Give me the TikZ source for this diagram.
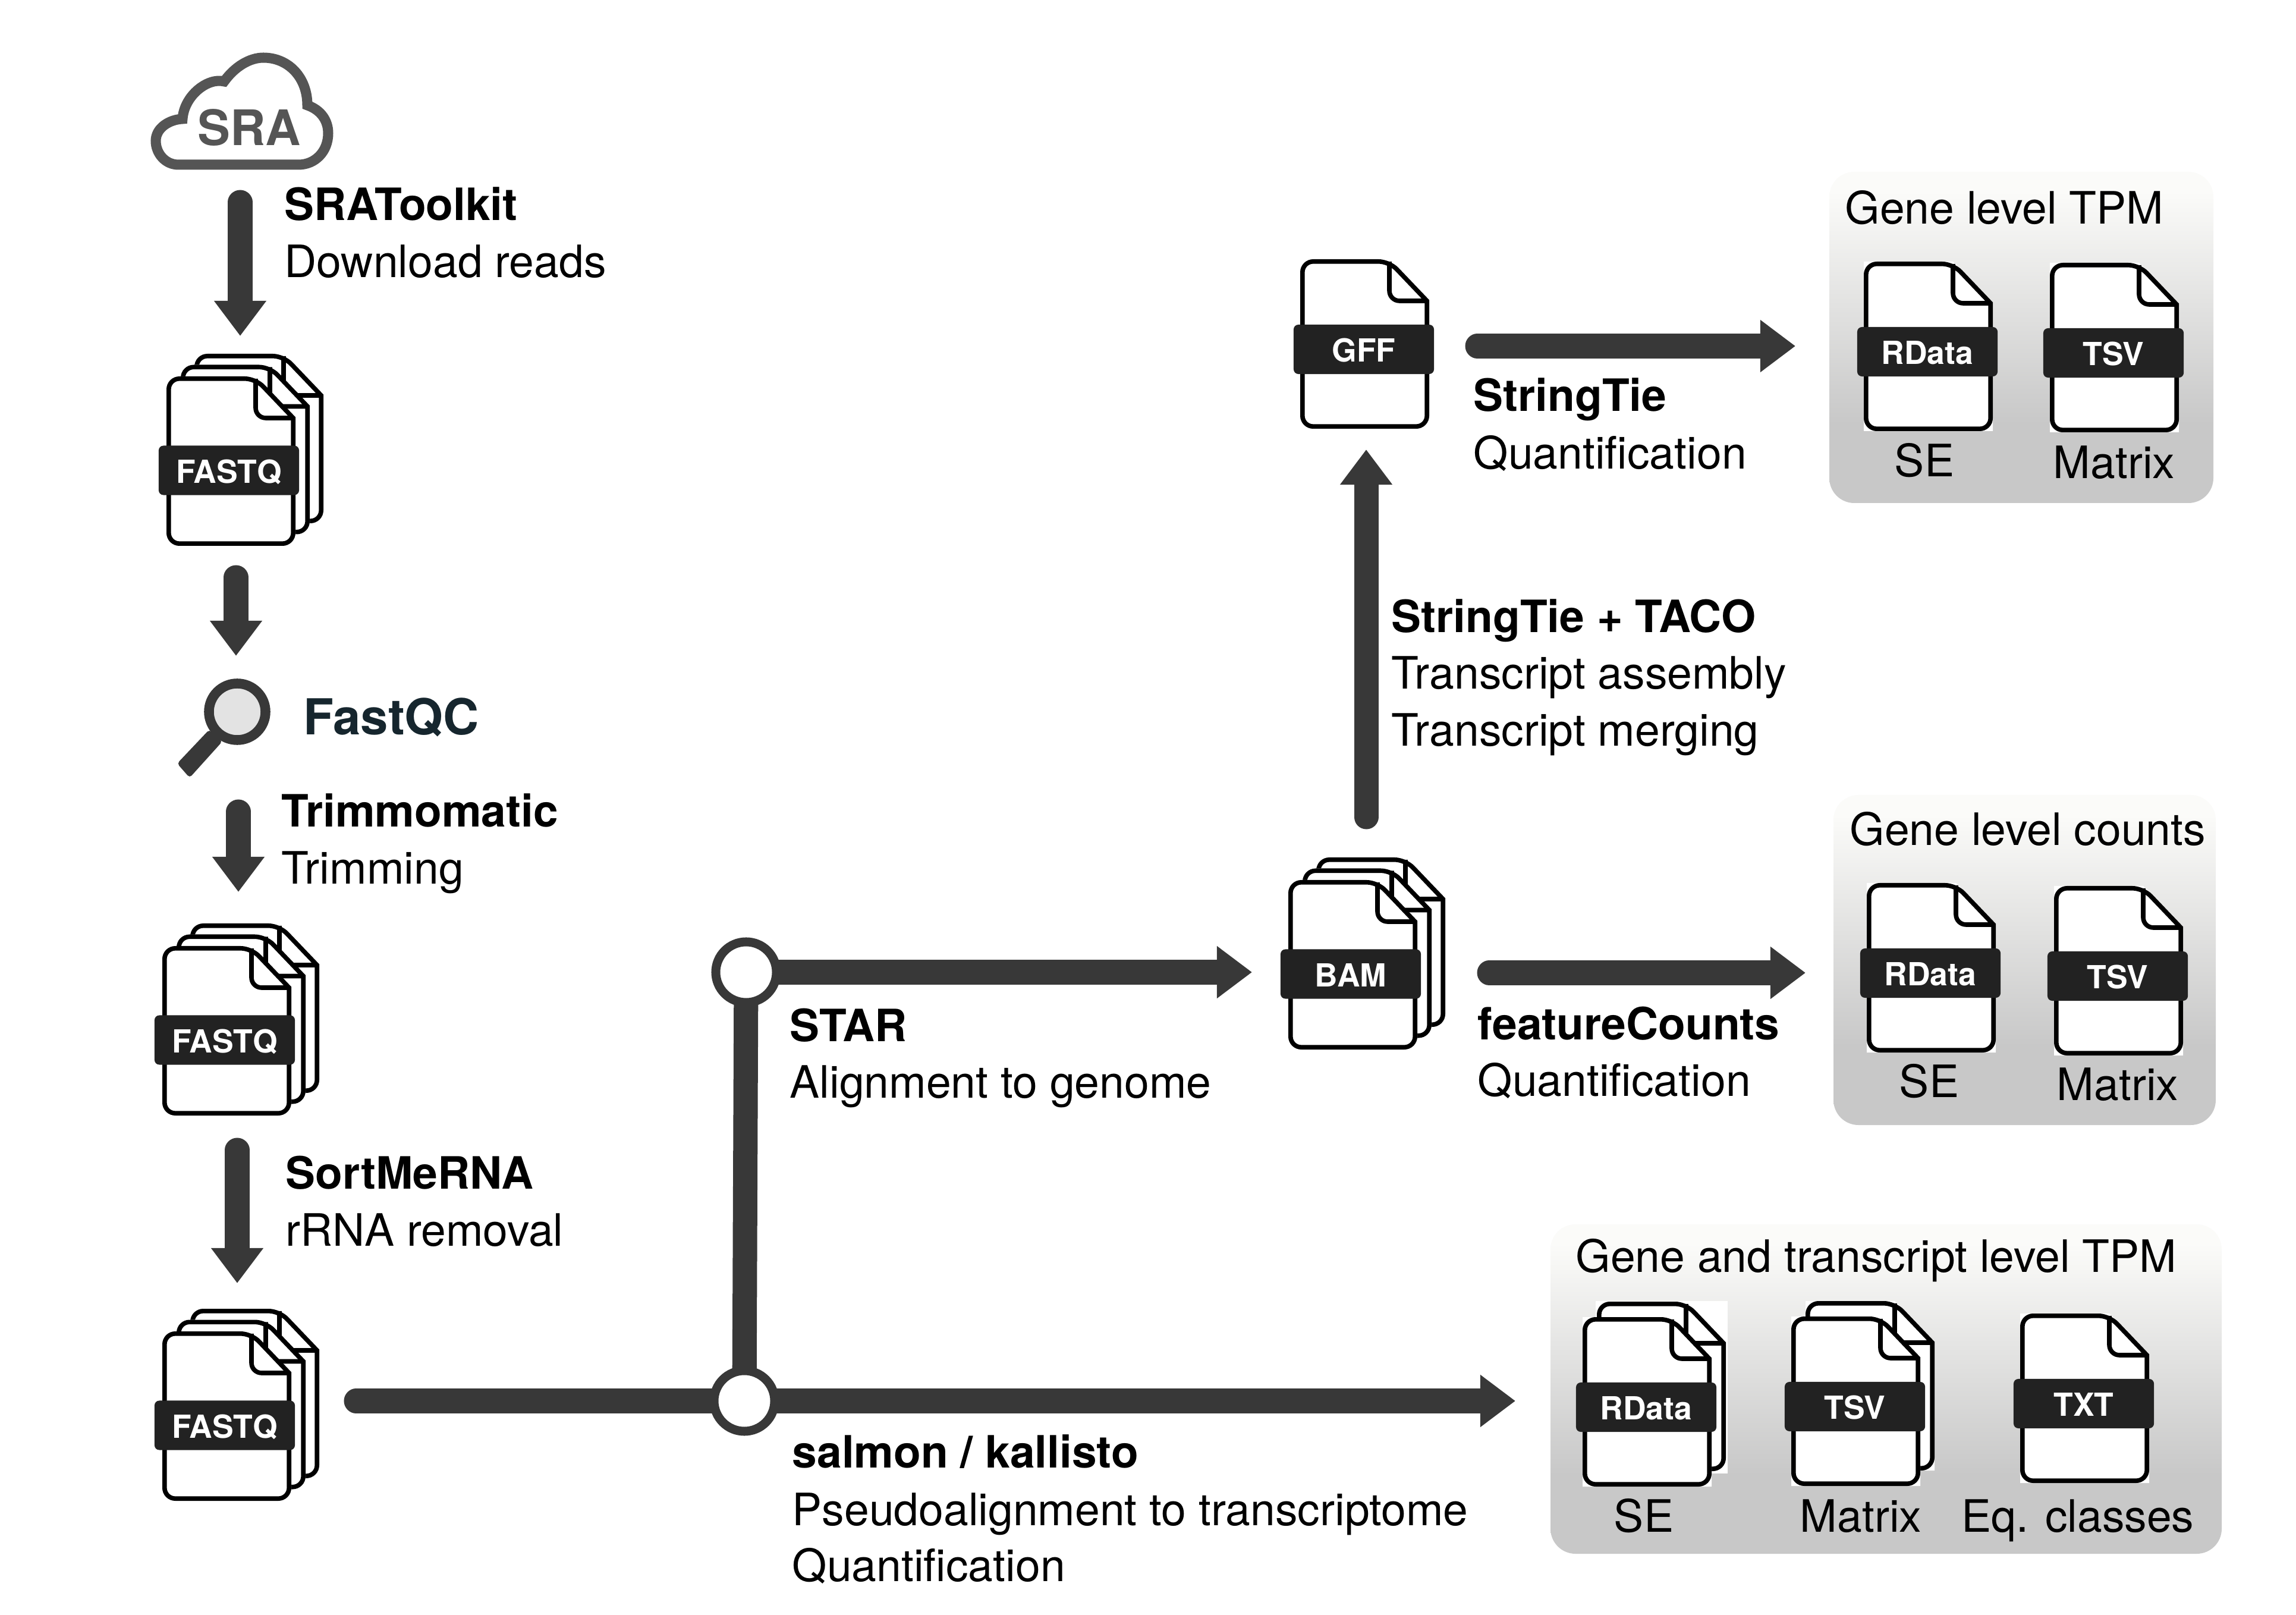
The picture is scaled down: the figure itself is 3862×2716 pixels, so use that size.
\documentclass[tikz,border=0pt]{standalone}
\usepackage{fontspec}
\setmainfont{TeX Gyre Heros}
\usetikzlibrary{arrows.meta,backgrounds}
\definecolor{flowc}{HTML}{383838}
\definecolor{bandc}{HTML}{222222}
\definecolor{cloudc}{HTML}{555555}
\definecolor{qcc}{HTML}{16262E}
\definecolor{boxlo}{HTML}{C8C8C8}
\definecolor{boxhi}{HTML}{FBFBF9}
\definecolor{lensc}{HTML}{E3E3E3}
\pgfdeclareverticalshading{boxgrad}{100bp}{color(0bp)=(boxlo);color(37bp)=(boxlo);color(72bp)=(boxhi);color(100bp)=(boxhi)}
\tikzset{
  flow/.style={draw=flowc,line width=.41cm,line cap=round,-{Triangle[length=.59cm,width=.84cm]}},
  flowplain/.style={draw=flowc,line width=.41cm,line cap=round},
  fileline/.style={draw=black,line width=.076cm,line join=miter},
  band/.style={fill=bandc,rounded corners=.08cm,minimum width=2.36cm,minimum height=.83cm,inner sep=0pt,
     text=white,font=\fontsize{15.2}{15}\selectfont\bfseries,text height=12.2pt,text depth=0pt},
  lbl/.style={anchor=base west,inner sep=0pt,yshift=-.01cm,font=\fontsize{21.35}{27}\selectfont},
  lblb/.style={anchor=base west,inner sep=0pt,yshift=-.02cm,font=\fontsize{21.3}{27}\selectfont\bfseries},
  captxt/.style={anchor=base,inner sep=0pt,font=\fontsize{21.35}{27}\selectfont},
  junction/.style={circle,draw=flowc,fill=white,line width=.15cm,minimum size=1.02cm,inner sep=0pt,outer sep=0pt},
  outbox/.style={shading=boxgrad,rounded corners=.42cm},
}
\newcommand{\filepage}{%
  \fill[white] (0,0) -- (150,0) -- (217,69) -- (217,285) -- (0,285) -- cycle;
  \draw[fileline] (150,3.8) -- (213.2,70) [rounded corners=.18cm] -- (213.2,281.2) -- (3.8,281.2) -- (3.8,3.8) -- cycle;
  \draw[fileline,line cap=butt] (150,3.8) [rounded corners=.17cm] -- (150,70) -- (213.2,70);
}
\newcommand{\fileicon}[4]{%
  \begin{scope}[shift={(#2,#3)}]
    \filepage
    \node[band] (#1) at (107,151.5) {#4};
  \end{scope}}
\newcommand{\pairicon}[4]{%
  \begin{scope}[shift={(#2,#3)}]
    \begin{scope}[shift={(24,-26)}]\filepage\end{scope}
    \filepage
    \node[band] (#1) at (107,151.5) {#4};
  \end{scope}}
\newcommand{\stackicon}[4]{%
  \begin{scope}[shift={(#2,#3)}]
    \begin{scope}[shift={(47,-38)}]\filepage\end{scope}
    \begin{scope}[shift={(24,-19.5)}]\filepage\end{scope}
    \filepage
    \node[band] (#1) at (105,158) {#4};
  \end{scope}}
\begin{document}
\begin{tikzpicture}[x=.01cm,y=-.01cm]
\useasboundingbox (0,0) rectangle (3862,2716);
\begin{scope}[on background layer]
  \fill[white] (0,0) rectangle (3862,2716);
\end{scope}

% output boxes
\path[outbox] (3077,289) rectangle (3723,846);
\path[outbox] (3084,1337) rectangle (3727,1892);
\path[outbox] (2608,2059) rectangle (3737,2613);

% cloud
\draw[draw=cloudc,line width=.17cm,line join=miter]
  (300,277) .. controls (278,277) and (262,258) .. (262,237)
  .. controls (262,215) and (285,201) .. (307,200)
  .. controls (310,160) and (350,130) .. (377,137)
  .. controls (395,112) and (420,97) .. (443,97)
  .. controls (485,97) and (517,130) .. (517,177)
  .. controls (540,185) and (552,203) .. (552,224)
  .. controls (552,255) and (530,277) .. (502,277) -- cycle;
\node[anchor=base,inner sep=0pt,text=cloudc,font=\fontsize{23.4}{27}\selectfont\bfseries] (sra) at (419,245) {SRA};

% magnifier
\fill[flowc,rounded corners=.05cm] (298,1284) -- (319,1308) -- (374,1247) -- (352,1227) -- cycle;
\node[circle,draw=flowc,fill=lensc,line width=.165cm,minimum size=.95cm,inner sep=0pt] (lens) at (399,1197) {};

% file icons
\stackicon{fq1}{280}{633}{FASTQ}
\stackicon{fq2}{273}{1591}{FASTQ}
\stackicon{fq3}{273}{2239}{FASTQ}
\stackicon{bam}{2167}{1480}{BAM}
\fileicon{gff}{2187}{436}{GFF}
\fileicon{rd1}{3135}{440}{RData}
\fileicon{ts1}{3448}{442}{TSV}
\fileicon{rd2}{3140}{1485}{RData}
\fileicon{ts2}{3455}{1490}{TSV}
\fill[white] (2684,2188) rectangle (2906,2478);
\pairicon{rd3}{2662}{2215}{RData}
\pairicon{ts3}{3013}{2214}{TSV}
\fileicon{txt}{3398}{2209}{TXT}

% junctions
\node[junction] (jtop) at (1255,1635) {};
\node[junction] (jbot) at (1252,2356) {};

% connector end points
\coordinate (a1s) at (404,340);    \coordinate (a1e) at (404,565);
\coordinate (a2s) at (397,971);    \coordinate (a2e) at (397,1103);
\coordinate (a3s) at (401,1365);   \coordinate (a3e) at (401,1500);
\coordinate (a4s) at (399,1934);   \coordinate (a4e) at (399,2158);
\coordinate (a5s) at (599,2356);
\coordinate (a6e) at (2549,2356);
\coordinate (a7e) at (2106,1635);
\coordinate (a8s) at (2298,1374);  \coordinate (a8e) at (2298,756);
\coordinate (a9s) at (2485,582);   \coordinate (a9e) at (3020,582);
\coordinate (a10s) at (2505,1636); \coordinate (a10e) at (3037,1636);

\draw[flow] (a1s) -- (a1e);
\draw[flow] (a2s) -- (a2e);
\draw[flow] (a3s) -- (a3e);
\draw[flow] (a4s) -- (a4e);
\draw[flow] (a8s) -- (a8e);
\draw[flow] (a9s) -- (a9e);
\draw[flow] (a10s) -- (a10e);
\begin{scope}[on background layer]
  \draw[flowplain] (a5s) -- (jbot.center);
  \draw[flowplain,line cap=butt] (jtop.center) -- (jbot.center);
  \draw[flow,line cap=butt] (jbot.center) -- (a6e);
  \draw[flow,line cap=butt] (jtop.center) -- (a7e);
\end{scope}

% labels
\node[lblb] (t1a) at (478,369) {SRAToolkit};
\node[lbl]  (t1b) at (478,466) {Download reads};
\node[anchor=base west,inner sep=0pt,text=qcc,font=\fontsize{23.7}{27}\selectfont\bfseries] (t2) at (510,1236) {FastQC};
\node[lblb] (t3a) at (473,1389) {Trimmomatic};
\node[lbl]  (t3b) at (473,1485) {Trimming};
\node[lblb] (t4a) at (480,1997) {SortMeRNA};
\node[lbl]  (t4b) at (480,2094) {rRNA removal};
\node[lblb] (t5a) at (1328,1749) {STAR};
\node[lbl]  (t5b) at (1328,1845) {Alignment to genome};
\node[lblb] (t6a) at (1332,2466) {salmon / kallisto};
\node[lbl]  (t6b) at (1332,2564) {Pseudoalignment to transcriptome};
\node[lbl]  (t6c) at (1332,2658) {Quantification};
\node[lblb] (t7a) at (2340,1062) {StringTie + TACO};
\node[lbl]  (t7b) at (2340,1158) {Transcript assembly};
\node[lbl]  (t7c) at (2340,1254) {Transcript merging};
\node[lblb] (t8a) at (2478,690) {StringTie};
\node[lbl]  (t8b) at (2478,788) {Quantification};
\node[lblb] (t9a) at (2485,1746) {featureCounts};
\node[lbl]  (t9b) at (2485,1842) {Quantification};
\node[lbl]  (b1) at (3103,376) {Gene level TPM};
\node[captxt]  (b1a) at (3237,802) {SE};
\node[captxt]  (b1b) at (3556,805) {Matrix};
\node[lbl]  (b2) at (3111,1421) {Gene level counts};
\node[captxt]  (b2a) at (3245,1845) {SE};
\node[captxt]  (b2b) at (3562,1850) {Matrix};
\node[lbl]  (b3) at (2650,2138) {Gene and transcript level TPM};
\node[captxt]  (b3a) at (2765,2576) {SE};
\node[captxt]  (b3b) at (3130,2576) {Matrix};
\node[captxt]  (b3c) at (3495,2576) {Eq. classes};
\end{tikzpicture}
\end{document}
